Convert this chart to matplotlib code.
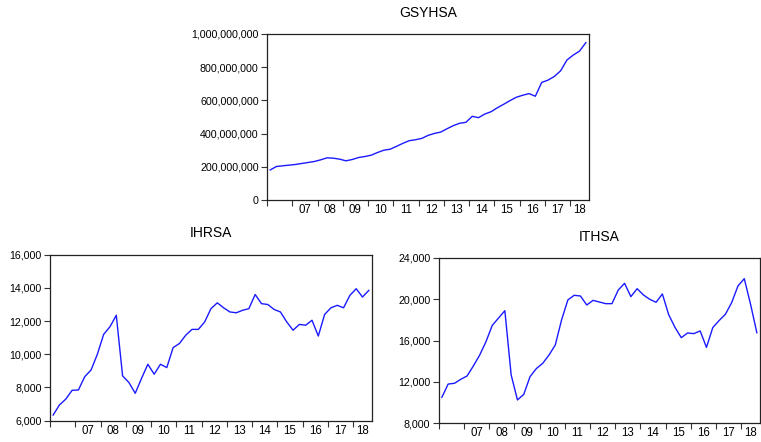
import numpy as np
import matplotlib
matplotlib.use("Agg")
import matplotlib.pyplot as plt
from matplotlib.ticker import StrMethodFormatter, FixedLocator, NullFormatter

plt.rcParams['font.family'] = ['Liberation Sans', 'DejaVu Sans']

# quarterly data, 2006Q1 - 2018Q3
start_year = 2006
n_obs = 51

gsyhsa = [181e6, 202e6, 206e6, 210e6, 214e6, 220e6, 226e6, 232e6,
          242e6, 254e6, 252e6, 246e6, 236e6, 244e6, 256e6, 262e6,
          270e6, 286e6, 300e6, 306e6, 323e6, 341e6, 357e6, 363e6,
          371e6, 389e6, 401e6, 409e6, 429e6, 448e6, 462e6, 468e6,
          504e6, 496e6, 518e6, 532e6, 556e6, 577e6, 599e6, 619e6,
          631e6, 641e6, 625e6, 708e6, 722e6, 744e6, 778e6, 843e6,
          873e6, 897e6, 948e6]

ihrsa = [6340, 6950, 7300, 7830, 7850, 8650, 9050, 10000,
         11200, 11660, 12350, 8700, 8300, 7650, 8550, 9400,
         8800, 9400, 9200, 10400, 10650, 11150, 11500, 11500,
         11950, 12750, 13100, 12800, 12550, 12500, 12650, 12750,
         13600, 13050, 13000, 12700, 12550, 11950, 11450, 11800,
         11750, 12050, 11100, 12400, 12800, 12950, 12800, 13550,
         13950, 13450, 13850]

ithsa = [10520, 11800, 11870, 12260, 12580, 13550, 14600, 15900,
         17480, 18190, 18900, 12680, 10260, 10800, 12520, 13300,
         13800, 14600, 15580, 18000, 19940, 20390, 20320, 19450,
         19900, 19740, 19580, 19580, 20900, 21550, 20260, 21030,
         20420, 20000, 19710, 20520, 18520, 17290, 16290, 16740,
         16680, 16940, 15350, 17260, 17940, 18550, 19680, 21290,
         22000, 19520, 16770]

year_labels = ['07', '08', '09', '10', '11', '12', '13', '14', '15', '16', '17', '18']

# quarter mid-points
t = start_year + (np.arange(n_obs) + 0.5) / 4.0
x_end = start_year + n_obs / 4.0


def panel(ax, y, title, yticks):
    ax.plot(t, y, color='#1a1aff', lw=1.0)
    ax.set_xlim(start_year, x_end)
    ax.set_ylim(yticks[0], yticks[-1])
    ax.set_yticks(yticks)
    ax.yaxis.set_major_formatter(StrMethodFormatter('{x:,.0f}'))
    major = np.arange(start_year, int(x_end) + 1)
    ax.xaxis.set_major_locator(FixedLocator(major))
    ax.xaxis.set_major_formatter(NullFormatter())
    centers = [min(yr + 0.5, (yr + x_end) / 2) for yr in range(start_year + 1, int(x_end) + 1)]
    ax.xaxis.set_minor_locator(FixedLocator(centers))
    ax.set_xticklabels(year_labels, minor=True)
    ax.tick_params(axis='x', which='minor', length=0, pad=3, labelsize=8.3)
    ax.tick_params(axis='x', which='major', length=4, width=0.8, color='#333333')
    ax.tick_params(axis='y', length=4, width=0.8, labelsize=7.7, pad=2, color='#333333')
    for s in ax.spines.values():
        s.set_color('#222222')
        s.set_linewidth(0.9)
    ax.set_title(title, fontsize=10, pad=12.5)


fig = plt.figure(figsize=(7.61, 4.42), dpi=100)
ax1 = fig.add_axes([0.3509, 0.5475, 0.4231, 0.3756])
ax2 = fig.add_axes([0.0657, 0.0482, 0.4231, 0.3756])
ax3 = fig.add_axes([0.5765, 0.0423, 0.4222, 0.3740])

panel(ax1, gsyhsa, 'GSYHSA', [0, 2e8, 4e8, 6e8, 8e8, 1e9])
panel(ax2, ihrsa, 'IHRSA', [6000, 8000, 10000, 12000, 14000, 16000])
panel(ax3, ithsa, 'ITHSA', [8000, 12000, 16000, 20000, 24000])

fig.savefig('out.png', dpi=100)
plt.close(fig)
